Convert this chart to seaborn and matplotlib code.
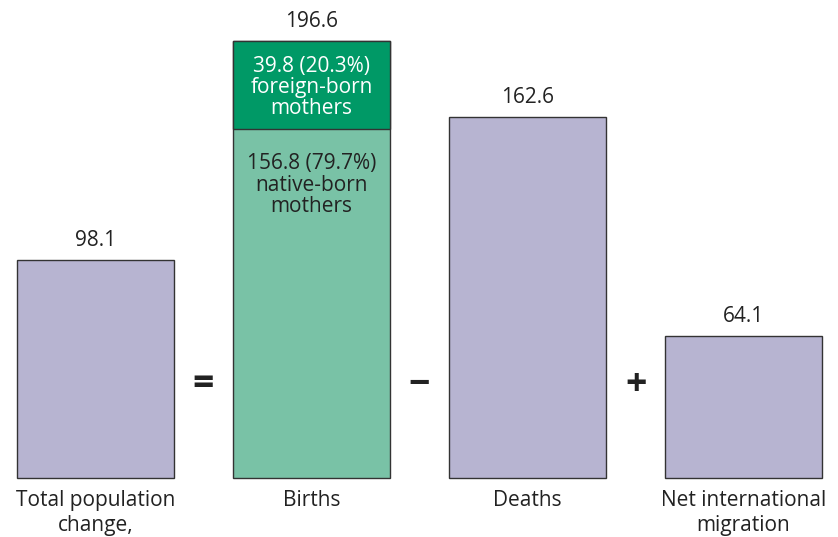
import matplotlib
matplotlib.use('Agg')
import matplotlib.pyplot as plt
import seaborn as sns
import pandas as pd

# values (thousands)
categories = ['Total population\nchange,', 'Births', 'Deaths', 'Net international\nmigration']
totals = [98.1, 196.6, 162.6, 64.1]
births_native = 156.8
births_foreign = 39.8
share_native = '79.7%'
share_foreign = '20.3%'
operators = ['=', '\u2212', '+']

purple = '#b7b4d1'
light_green = '#79c2a6'
dark_green = '#009966'
edge = '#333333'
txt = '#222222'

sns.set_theme(style='white')
plt.rcParams['font.family'] = ['Open Sans', 'DejaVu Sans']

df = pd.DataFrame({'cat': categories, 'value': totals})

fig = plt.figure(figsize=(8.38, 5.37), dpi=100)
ax = fig.add_axes([0, 0, 1, 1])

sns.barplot(data=df, x='cat', y='value', hue='cat', legend=False,
            palette=[purple, light_green, purple, purple], saturation=1,
            width=0.727, edgecolor=edge, linewidth=1, ax=ax)

# foreign-born section on top of births
ax.bar(1, births_foreign, bottom=births_native, width=0.727,
       color=dark_green, edgecolor=edge, linewidth=1)

ax.set_xlim(-0.442, 3.437)
ax.set_ylim(-26.5, 215)
ax.axis('off')

# value labels above bars
for i, v in enumerate(totals):
    ax.text(i, v + 3.8, f'{v}', ha='center', va='bottom', fontsize=15, color=txt)

# inside labels for births
ax.text(1, births_native + births_foreign - 7,
        f'{births_foreign} ({share_foreign})\nforeign-born\nmothers',
        ha='center', va='top', fontsize=15, color='white', linespacing=0.98)
ax.text(1, births_native - 10.5,
        f'{births_native} ({share_native})\nnative-born\nmothers',
        ha='center', va='top', fontsize=15, color=txt, linespacing=1.05)

# operators between bars
for i, op in enumerate(operators):
    ax.text(i + 0.5, 42, op, ha='center', va='center', fontsize=27,
            fontweight='bold', color=txt)

# category labels beneath bars
for i, c in enumerate(categories):
    ax.text(i, -5.2, c, ha='center', va='top', fontsize=15, color=txt,
            linespacing=1.25)

fig.savefig('out.png', dpi=100)
